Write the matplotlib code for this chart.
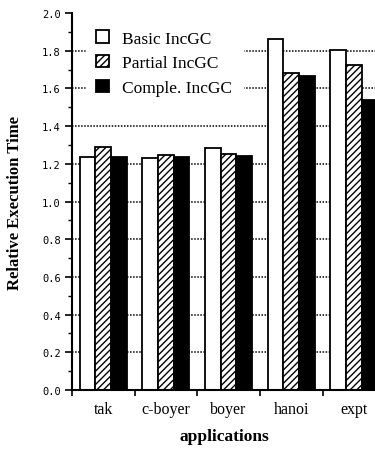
import matplotlib
matplotlib.use("Agg")
import matplotlib.pyplot as plt
import numpy as np

apps = ["tak", "c-boyer", "boyer", "hanoi", "expt"]
basic = [1.238, 1.232, 1.282, 1.864, 1.805]
partial = [1.291, 1.247, 1.254, 1.680, 1.726]
comple = [1.238, 1.236, 1.243, 1.664, 1.538]
series_labels = ["Basic IncGC", "Partial IncGC", "Comple. IncGC"]
yticks = [0.0, 0.2, 0.4, 0.6, 0.8, 1.0, 1.2, 1.4, 1.6, 1.8, 2.0]
grid_levels = [0.2, 0.4, 0.6, 0.8, 1.0, 1.2, 1.4, 1.6, 1.8]

serif = "Liberation Serif"
plt.rcParams["hatch.linewidth"] = 1.0

fig = plt.figure(figsize=(3.75, 4.56), dpi=100)
ax = fig.add_axes([0.192, 0.1425, 0.81, 0.8268])

x = np.arange(len(apps))
w = 0.25

for g in grid_levels:
    ax.axhline(g, color="black", lw=1.1, ls=(0, (1, 1)), zorder=1)

b1 = ax.bar(x - w, basic, w, color="white", edgecolor="black", lw=1.3, zorder=2)
b2 = ax.bar(x, partial, w, color="white", edgecolor="black", lw=1.3, hatch="/////", zorder=2)
b3 = ax.bar(x + w, comple, w, color="black", edgecolor="black", lw=1.3, zorder=2)

ax.set_xlim(-0.5, 4.35)
ax.set_ylim(0, 2.0)

for side in ["top", "right"]:
    ax.spines[side].set_visible(False)
ax.spines["left"].set_linewidth(1.5)
ax.spines["bottom"].set_linewidth(1.5)

ax.set_yticks(yticks)
ax.set_yticklabels([f"{v:.1f}" for v in yticks], family="DejaVu Sans Mono", fontsize=7.5)
ax.set_yticks(np.arange(0.1, 2.0, 0.2), minor=True)
ax.tick_params(axis="y", which="major", direction="out", length=5, width=1.2, pad=3)
ax.tick_params(axis="y", which="minor", direction="out", length=3, width=1.0)

ax.set_xticks(x)
ax.set_xticklabels(apps, family=serif, fontsize=11.5)
ax.set_xticks(np.arange(-0.5, 4.5, 1.0), minor=True)
ax.tick_params(axis="x", which="major", length=0, pad=8)
ax.tick_params(axis="x", which="minor", direction="out", length=4, width=1.2)

ax.set_ylabel("Relative Execution Time", family=serif, fontweight="bold", fontsize=12, labelpad=14)
ax.set_xlabel("applications", family=serif, fontweight="bold", fontsize=12.5, labelpad=8)

leg = ax.legend([b1, b2, b3], series_labels, loc="upper left",
                bbox_to_anchor=(86 / 375, 1 - 21 / 456), bbox_transform=fig.transFigure,
                prop={"family": serif, "size": 12.5}, frameon=True, fancybox=False,
                handlelength=0.7, handleheight=0.7, handletextpad=0.8,
                labelspacing=0.5, borderpad=0.6, borderaxespad=0)
leg.get_frame().set_edgecolor("white")
leg.get_frame().set_facecolor("white")
leg.get_frame().set_alpha(1)
leg.set_zorder(5)

fig.savefig("out.png", dpi=100)
